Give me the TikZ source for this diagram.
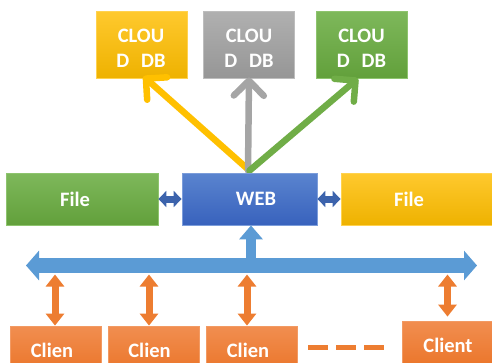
\documentclass[tikz,border=0pt]{standalone}
\usepackage{fontspec}
\setmainfont{Carlito}
\usetikzlibrary{arrows.meta}

\definecolor{ylwTop}{HTML}{FFC92E}
\definecolor{ylwBot}{HTML}{EEB200}
\definecolor{ylwEdge}{HTML}{FFD24F}
\definecolor{ylwLine}{HTML}{FFC000}
\definecolor{gryTop}{HTML}{B0B0B0}
\definecolor{gryBot}{HTML}{969696}
\definecolor{gryEdge}{HTML}{BDBDBD}
\definecolor{gryLine}{HTML}{A5A5A5}
\definecolor{grnTop}{HTML}{7EB85B}
\definecolor{grnBot}{HTML}{62A03B}
\definecolor{grnEdge}{HTML}{8EC46E}
\definecolor{grnLine}{HTML}{70AD47}
\definecolor{bluTop}{HTML}{5A84CF}
\definecolor{bluBot}{HTML}{3862BD}
\definecolor{bluEdge}{HTML}{7C9DDA}
\definecolor{orgTop}{HTML}{F18E50}
\definecolor{orgBot}{HTML}{EA7225}
\definecolor{orgEdge}{HTML}{F29A63}
\definecolor{orgLine}{HTML}{ED7D31}
\definecolor{busBlue}{HTML}{5B9BD5}
\definecolor{linkBlue}{HTML}{3C63AC}

\tikzset{
  box/.style={rectangle, inner sep=0pt, line width=0.8pt},
  ybox/.style={box, draw=ylwEdge, top color=ylwTop, bottom color=ylwBot},
  gbox/.style={box, draw=gryEdge, top color=gryTop, bottom color=gryBot},
  grbox/.style={box, draw=grnEdge, top color=grnTop, bottom color=grnBot},
  bbox/.style={box, draw=bluEdge, top color=bluTop, bottom color=bluBot},
  obox/.style={box, draw=orgEdge, top color=orgTop, bottom color=orgBot},
  cloudbox/.style={minimum width=91pt, minimum height=67pt},
  midbox/.style={minimum height=52pt},
  clientbox/.style={obox, minimum width=91pt, minimum height=52pt},
  lbl/.style={text=white, font=\bfseries\fontsize{20.5}{25}\selectfont,
    align=center, inner sep=0pt},
  upline/.style={line width=6.5pt, line cap=round,
    -{Straight Barb[length=15pt, width=30pt, round]}},
  linkarrow/.style={draw=linkBlue, line width=7pt,
    {Triangle[length=8pt, width=16pt]}-{Triangle[length=8pt, width=16pt]}},
  busline/.style={draw=busBlue, line width=15pt,
    {Triangle[length=13pt, width=29pt]}-{Triangle[length=13pt, width=29pt]}},
  busstem/.style={draw=busBlue, line width=10pt,
    -{Triangle[length=14pt, width=23pt]}},
  clientarrow/.style={draw=orgLine, line width=7pt,
    {Triangle[length=12pt, width=18pt]}-{Triangle[length=12pt, width=18pt]}},
  dashline/.style={draw=orgLine, line width=5pt, dash pattern=on 20pt off 8pt},
}

\begin{document}
\begin{tikzpicture}[x=1pt, y=-1pt]
\useasboundingbox (0,0) rectangle (492,362);
\clip (0,0) rectangle (492,362);

% cloud databases
\node[ybox, cloudbox]  (cloudY) at (141.5,44.5) {};
\node[gbox, cloudbox]  (cloudG) at (249,44.5) {};
\node[grbox, cloudbox] (cloudN) at (361.5,44.5) {};

% web server and file stores
\node[grbox, midbox, minimum width=152pt] (fileL) at (82,199) {};
\node[bbox,  midbox, minimum width=135pt] (web)   at (249.5,199) {};
\node[ybox,  midbox, minimum width=152pt] (fileR) at (417,199) {};

% clients
\node[clientbox] (cl1) at (55.5,352) {};
\node[clientbox] (cl2) at (153.5,352) {};
\node[clientbox] (cl3) at (251.5,352) {};
\node[clientbox] (cl4) at (447.5,347) {};

% web -> clouds
\draw[upline, ylwLine] ([yshift=2pt]web.north) -- ([shift={(2pt,2pt)}]cloudY.south);
\draw[upline, gryLine] ([shift={(-1.5pt,2pt)}]web.north) -- ([yshift=1pt]cloudG.south);
\draw[upline, grnLine] ([yshift=2pt]web.north) -- ([xshift=-3.5pt]cloudN.south);
% redraw the web box so the arrow roots sit beneath it
\node[bbox, midbox, minimum width=135pt] (webcover) at (249.5,199) {};

% file links
\draw[linkarrow] (fileL.east) -- (web.west);
\draw[linkarrow] (web.east) -- (fileR.west);

% bus
\coordinate (busL) at (26,265.5);
\coordinate (busR) at (477,265.5);
\coordinate (busB) at (0,274.5);
\draw[busline] (busL) -- (busR);
\draw[busstem] ([xshift=1.5pt]web.south |- busL) -- ([xshift=1.5pt]web.south);

% client links
\draw[clientarrow] ([xshift=-0.5pt]cl1.north |- busB) -- ([xshift=-0.5pt]cl1.north);
\draw[clientarrow] ([xshift=-4.5pt]cl2.north |- busB) -- ([xshift=-4.5pt]cl2.north);
\draw[clientarrow] ([xshift=-4.5pt]cl3.north |- busB) -- ([xshift=-4.5pt]cl3.north);
\draw[clientarrow] (cl4.north |- busB) -- ([yshift=4pt]cl4.north);
\node[clientbox] (cl4cover) at (447.5,347) {};

% more clients
\coordinate (dashA) at (308,347);
\coordinate (dashB) at (384,347);
\draw[dashline] (dashA) -- (dashB);

% labels
\node[lbl] (cloudYt) at (141,48) {CLOU\\D\hspace{12pt}DB};
\node[lbl] (cloudGt) at (249,48) {CLOU\\D\hspace{12pt}DB};
\node[lbl] (cloudNt) at (361.5,48) {CLOU\\D\hspace{12pt}DB};
\node[lbl] (fileLt) at (75,199) {File};
\node[lbl] (webt)   at (256,199) {WEB};
\node[lbl] (fileRt) at (409,199) {File};
\node[lbl] (cl1t) at (52,350.5) {Clien};
\node[lbl] (cl2t) at (149.5,350.5) {Clien};
\node[lbl] (cl3t) at (248,350.5) {Clien};
\node[lbl] (cl4t) at (448,345) {Client};
\end{tikzpicture}
\end{document}
